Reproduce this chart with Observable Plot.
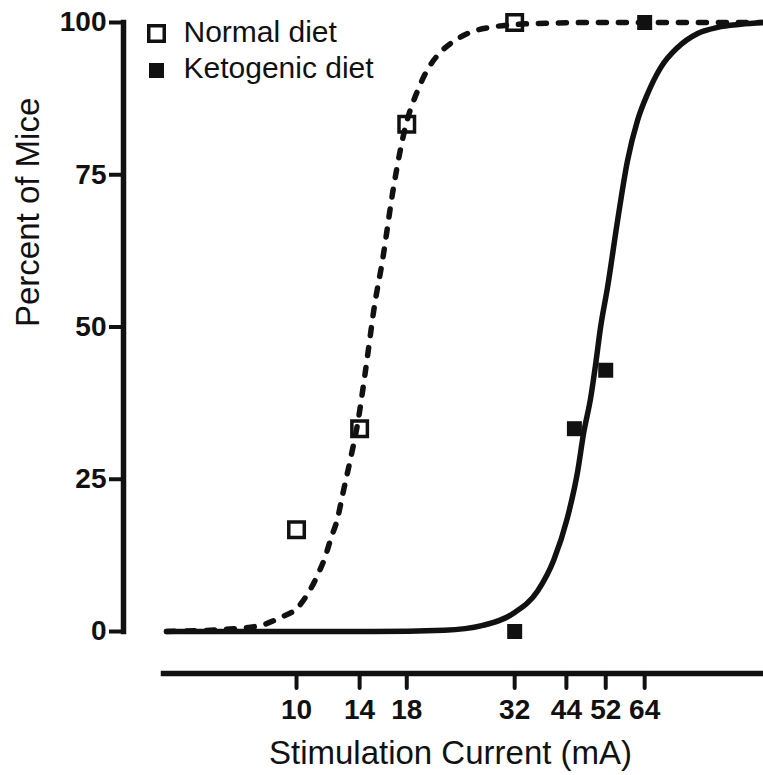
<!DOCTYPE html>
<html><head><meta charset="utf-8">
<script src="https://cdn.jsdelivr.net/npm/d3@7"></script>
<script src="https://cdn.jsdelivr.net/npm/@observablehq/plot@0.6"></script>
<style>
html,body{margin:0;padding:0;background:#fff;}
#chart svg{display:block;}
</style>
</head><body><div id="chart"></div>
<script>
// Series names
const seriesNames = ["Normal diet", "Ketogenic diet"];

// Observed points
const normalX = [10, 14, 18, 32];
const normalY = [16.7, 33.3, 83.3, 100];
const ketoX = [32, 44, 52, 64];
const ketoY = [0, 33.3, 42.9, 100];

// Fitted curves
const normalCurveX = [5, 7, 8.25, 9.18, 10.05, 10.66, 11.18, 11.67, 12.0, 12.45, 12.78, 13.34, 13.84, 14.45, 14.84, 15.08, 15.82, 16.78, 17.89, 19.07, 20.12, 21.33, 23.11, 25.3, 28.14, 34.8, 50, 121];
const normalCurveY = [0, 0.4, 1.0, 2.3, 3.9, 6.4, 9.2, 12.4, 15.2, 18.6, 22.4, 28.4, 34, 42.9, 48.9, 52.5, 61, 73, 83, 88.8, 92.3, 94.8, 96.9, 98.4, 99.2, 99.8, 100, 100];
const ketoCurveX = [5, 15, 22, 27, 31.8, 36.2, 39.4, 42.4, 44.8, 46.2, 48, 49.3, 50.6, 52.5, 55.4, 58.4, 61.6, 65, 69.7, 76.3, 84.9, 94.4, 106.8, 121];
const ketoCurveY = [0, 0, 0.2, 1.0, 3.0, 6.7, 11.7, 18.7, 26.4, 32.5, 38.4, 44, 50, 56.5, 67.5, 77.3, 83.9, 88.3, 92.6, 95.9, 98.2, 99.2, 99.7, 100];

// Ticks
const xTicks = [10, 14, 18, 32, 44, 52, 64];
const xTicksCrowded = [44]; // drawn nudged left in the original to avoid overlap
const yTicks = [0, 25, 50, 75, 100];

const xLabel = "Stimulation Current (mA)";
const yLabel = "Percent of Mice";

const ink = "#111";
const zip = (xs, ys) => xs.map((x, i) => ({x, y: ys[i]}));
const normalPts = zip(normalX, normalY);
const ketoPts = zip(ketoX, ketoY);
const normalCurve = zip(normalCurveX, normalCurveY);
const ketoCurve = zip(ketoCurveX, ketoCurveY);

const legendDy = [10, 46];
const legendSymDy = [11, 48];

const xAxisStyle = {tickSize: 15, tickPadding: 11, fontSize: 28, fontWeight: "bold", strokeWidth: 4, strokeLinecap: "round", stroke: ink, label: null, tickFormat: d => String(d)};

const chart = Plot.plot({
  width: 763,
  height: 775,
  marginTop: 22,
  marginRight: 0,
  marginBottom: 102,
  marginLeft: 123,
  insetLeft: 40,
  insetBottom: 42,
  style: {fontFamily: "'Liberation Sans', Arial, Helvetica, sans-serif", color: ink, background: "#fff"},
  x: {type: "log", domain: [4.92, 120.6]},
  y: {domain: [0, 100]},
  marks: [
    Plot.frame({anchor: "left", insetBottom: 42, stroke: ink, strokeWidth: 5.5, strokeLinecap: "square"}),
    Plot.frame({anchor: "bottom", insetLeft: 40, stroke: ink, strokeWidth: 5.5}),
    Plot.axisY({ticks: yTicks, tickSize: 14, tickPadding: 3, fontSize: 28, fontWeight: "bold", strokeWidth: 4, stroke: ink, label: null, tickFormat: d => String(d)}),
    Plot.axisX({...xAxisStyle, ticks: xTicks.filter(t => !xTicksCrowded.includes(t))}),
    Plot.axisX({...xAxisStyle, ticks: xTicksCrowded, dx: -8}),
    Plot.line(ketoCurve, {x: "x", y: "y", curve: "monotone-x", stroke: ink, strokeWidth: 5.5, strokeLinecap: "round"}),
    Plot.line(normalCurve, {x: "x", y: "y", curve: "monotone-x", stroke: ink, strokeWidth: 5.5, strokeDasharray: "8,12", strokeLinecap: "round"}),
    Plot.dot(normalPts, {x: "x", y: "y", symbol: "square", r: 8.75, fill: "none", stroke: ink, strokeWidth: 3.5}),
    Plot.dot(ketoPts, {x: "x", y: "y", symbol: "square", r: 8.46, fill: ink, stroke: "none"}),
    // legend
    Plot.dot([seriesNames[0]], {frameAnchor: "top-left", dx: 33, dy: legendSymDy[0], symbol: "square", r: 8.75, fill: "none", stroke: ink, strokeWidth: 3.5}),
    Plot.dot([seriesNames[1]], {frameAnchor: "top-left", dx: 33, dy: legendSymDy[1], symbol: "square", r: 8.46, fill: ink, stroke: "none"}),
    Plot.text([seriesNames[0]], {frameAnchor: "top-left", text: d => d, dx: 60, dy: legendDy[0], textAnchor: "start", lineAnchor: "middle", fontSize: 30, fill: ink}),
    Plot.text([seriesNames[1]], {frameAnchor: "top-left", text: d => d, dx: 60, dy: legendDy[1], textAnchor: "start", lineAnchor: "middle", fontSize: 30, fill: ink}),
    // axis titles
    Plot.text([xLabel], {frameAnchor: "bottom", text: d => d, dx: 7, dy: 80, lineAnchor: "middle", fontSize: 33, fill: ink}),
    Plot.text([yLabel], {frameAnchor: "left", text: d => d, rotate: -90, dx: -95, dy: -21, lineAnchor: "middle", fontSize: 33, fill: ink})
  ]
});
document.getElementById("chart").appendChild(chart);
</script>
</body></html>
